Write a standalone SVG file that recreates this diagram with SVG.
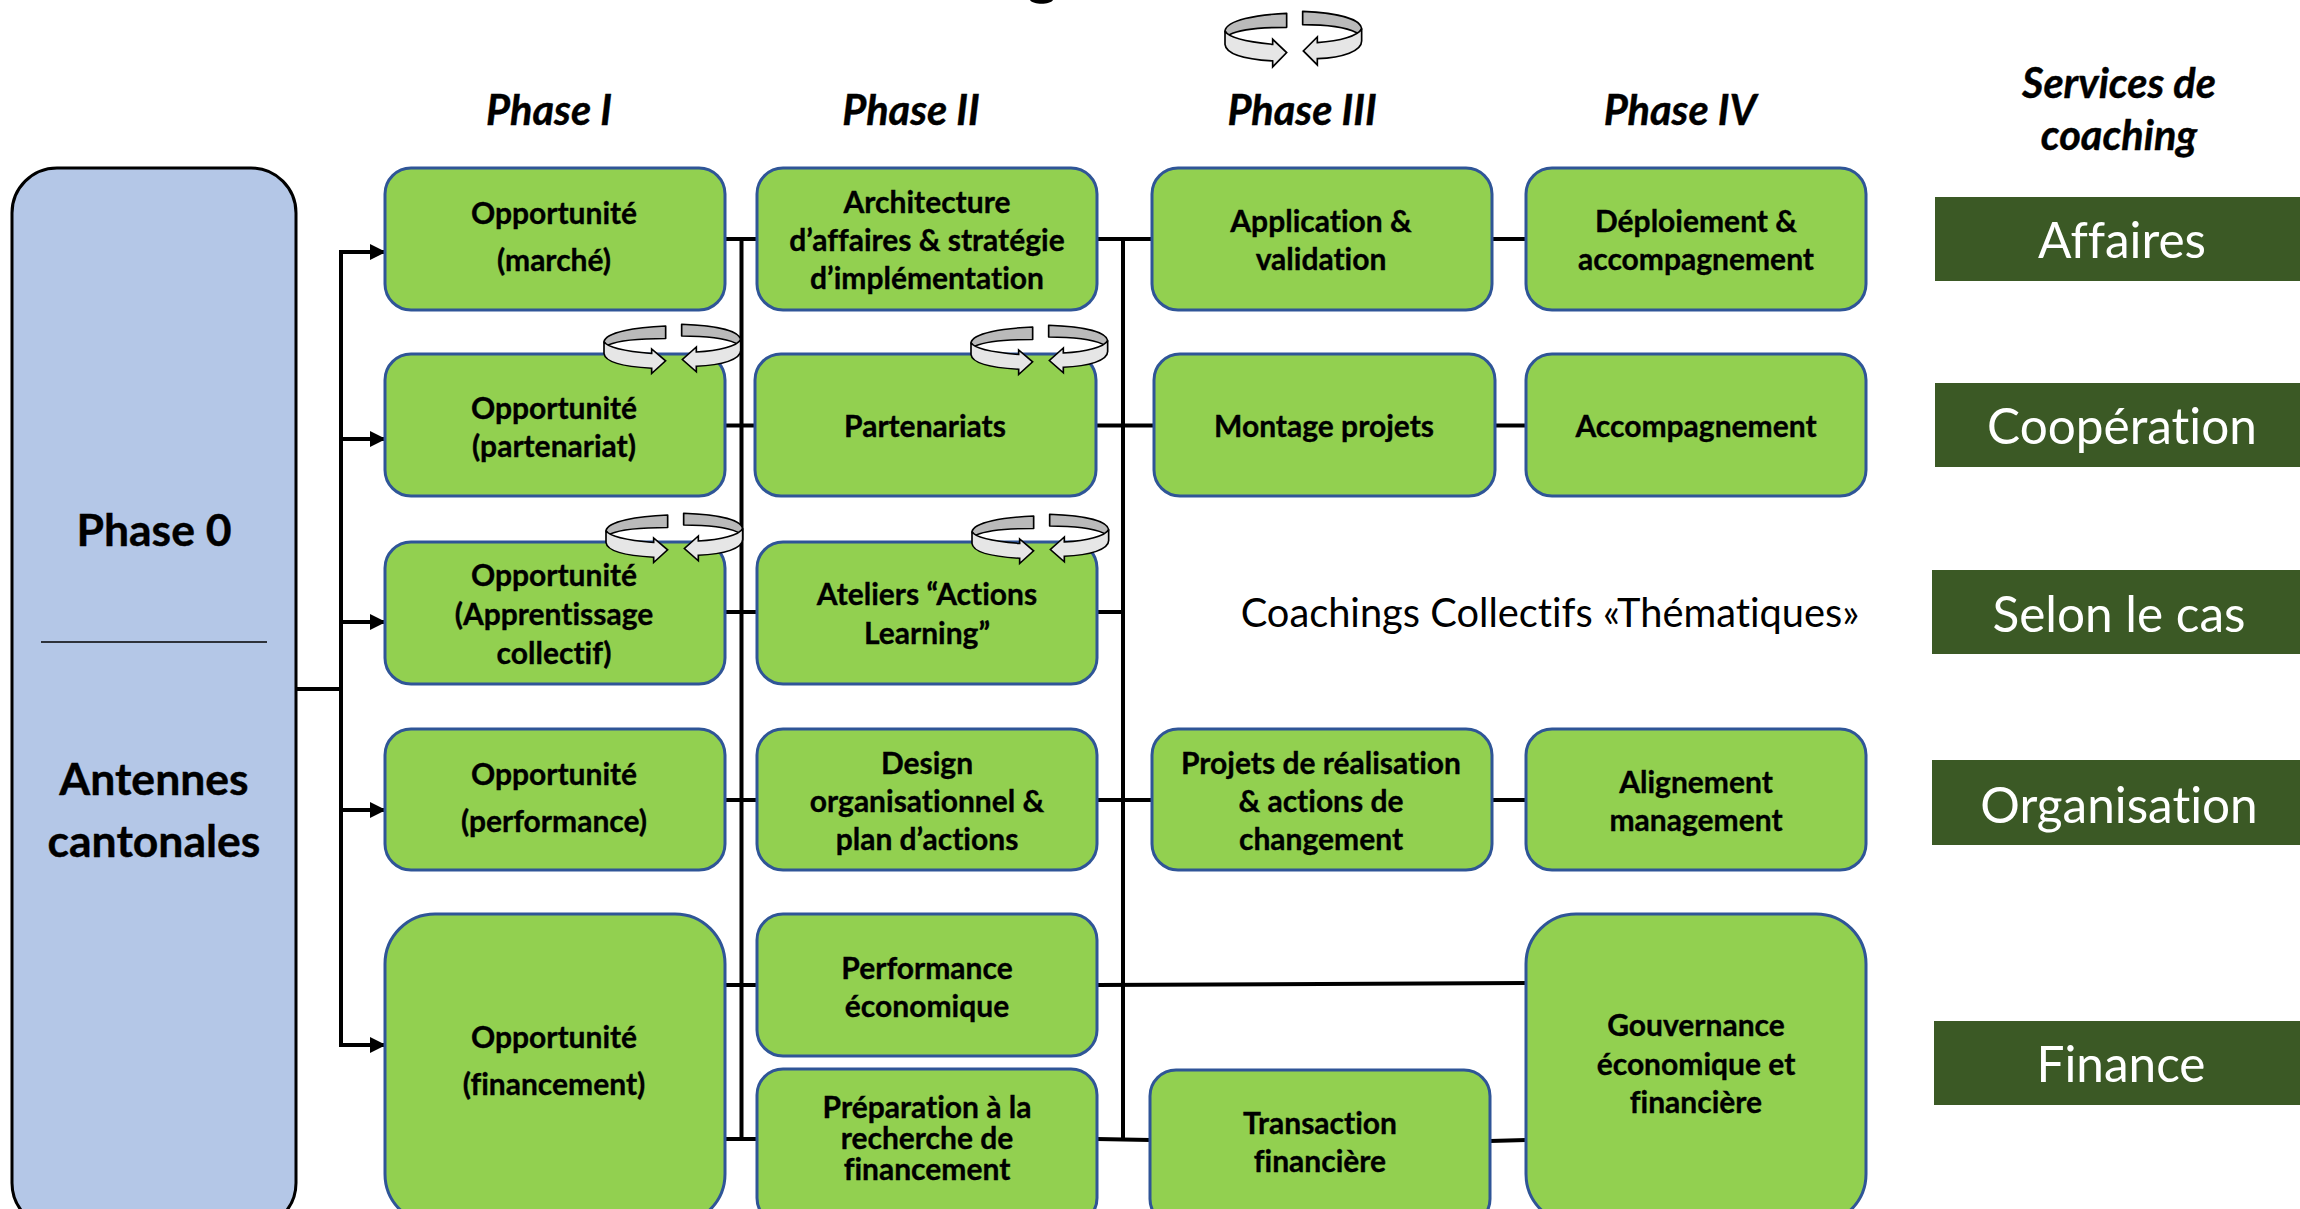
<svg xmlns="http://www.w3.org/2000/svg" width="2300" height="1209" viewBox="0 0 2300 1209">
<style>
text{font-family:"Lato","Liberation Sans",sans-serif;text-anchor:middle;fill:#000;font-variant-ligatures:none;transform:translateY(1.3px)}
.n{fill:#92D050;stroke:#2F5597;stroke-width:3}
.t{font-weight:700;font-size:30px;stroke:#000;stroke-width:.35}
.h{font-weight:700;font-style:italic;font-size:41.5px;stroke:#000;stroke-width:.4}
.s{fill:#3B5925}
.l{fill:#fff;font-size:49.5px}
.p{font-weight:700;font-size:44.5px;stroke:#000;stroke-width:.4}
.c line{stroke:#000;stroke-width:4;fill:none}
.a{fill:#000}
.g1{fill:#BABABA;stroke:#000;stroke-width:5;stroke-linejoin:round}
.g2{fill:#E6E6E6;stroke:#000;stroke-width:5;stroke-linejoin:miter}
</style>
<defs>
<marker id="arr" markerUnits="userSpaceOnUse" markerWidth="16" markerHeight="16" refX="15" refY="8" orient="auto"><path class="a" d="M0,0L16,8L0,16Z"/></marker>
<g id="cyc">
<path class="g1" d="M185,7C95,11 5,27 0,60C3,75 10,73 13,71C45,55 115,49 185,49Z"/>
<path class="g2" d="M0,60C10,80 65,93 143,100L143,85L185,125L143,168L143,150C65,145 3,130 0,100Z"/>
<path class="g1" d="M233,1C325,5 405,20 410,53C407,68 400,70 395,65C365,50 305,41 233,41Z"/>
<path class="g2" d="M410,53C400,75 345,90 277,95L277,78L235,120L277,162L277,143C355,140 410,120 410,90Z"/>
</g>
</defs>
<rect width="2300" height="1209" fill="#fff"/>
<path d="M1030,0C1033,5 1050,5 1053,0Z" fill="#000"/>

<g id="connectors" class="c">
<line x1="296" y1="689" x2="341" y2="689"/>
<line x1="341" y1="250" x2="341" y2="1047"/>
<line x1="341" y1="252" x2="385" y2="252" marker-end="url(#arr)"/>
<line x1="341" y1="439" x2="385" y2="439" marker-end="url(#arr)"/>
<line x1="341" y1="622" x2="385" y2="622" marker-end="url(#arr)"/>
<line x1="341" y1="810" x2="385" y2="810" marker-end="url(#arr)"/>
<line x1="341" y1="1045" x2="385" y2="1045" marker-end="url(#arr)"/>
<line x1="741.5" y1="239" x2="741.5" y2="1139"/>
<line x1="1123" y1="239" x2="1123" y2="1139"/>
<line x1="725" y1="239" x2="757" y2="239"/>
<line x1="1097" y1="239" x2="1152" y2="239"/>
<line x1="1492" y1="239" x2="1526" y2="239"/>
<line x1="725" y1="425.5" x2="755" y2="425.5"/>
<line x1="1096" y1="425.5" x2="1154" y2="425.5"/>
<line x1="1495" y1="425.5" x2="1526" y2="425.5"/>
<line x1="725" y1="612" x2="757" y2="612"/>
<line x1="1097" y1="612" x2="1123" y2="612"/>
<line x1="725" y1="800" x2="757" y2="800"/>
<line x1="1097" y1="800" x2="1152" y2="800"/>
<line x1="1492" y1="800" x2="1526" y2="800"/>
<line x1="725" y1="985" x2="757" y2="985"/>
<line x1="1097" y1="985" x2="1526" y2="983"/>
<line x1="725" y1="1139" x2="757" y2="1139"/>
<line x1="1097" y1="1139" x2="1150" y2="1140"/>
<line x1="1490" y1="1141" x2="1526" y2="1140"/>
</g>

<g id="phase0"><rect x="12" y="168" width="284" height="1060" rx="45" fill="#B4C7E7" stroke="#000" stroke-width="3"/>
<text class="p" x="154" y="545">Phase 0</text>
<line x1="41" y1="642" x2="267" y2="642" stroke="#000" stroke-width="1.5"/>
<text class="p" x="154" y="794">Antennes</text><text class="p" x="154" y="856">cantonales</text></g>

<g id="h1"><text class="h" x="549" y="124">Phase I</text></g>
<g id="h2"><text class="h" x="911" y="124">Phase II</text></g>
<g id="h3"><text class="h" x="1302" y="124">Phase III</text></g>
<g id="h4"><text class="h" x="1680" y="124">Phase IV</text></g>
<g id="h5"><text class="h" x="2119" y="97">Services de</text><text class="h" x="2119" y="149">coaching</text></g>

<g id="n11"><rect class="n" x="385" y="168" width="340" height="142" rx="26"/><text class="t" x="554" y="223">Opportunité</text><text class="t" x="554" y="270">(marché)</text></g>
<g id="n12"><rect class="n" x="757" y="168" width="340" height="142" rx="26"/><text class="t" x="927" y="212">Architecture</text><text class="t" x="927" y="250">d’affaires &amp; stratégie</text><text class="t" x="927" y="288">d’implémentation</text></g>
<g id="n13"><rect class="n" x="1152" y="168" width="340" height="142" rx="26"/><text class="t" x="1321" y="231">Application &amp;</text><text class="t" x="1321" y="269">validation</text></g>
<g id="n14"><rect class="n" x="1526" y="168" width="340" height="142" rx="26"/><text class="t" x="1696" y="231">Déploiement &amp;</text><text class="t" x="1696" y="269">accompagnement</text></g>

<g id="n21"><rect class="n" x="385" y="354" width="340" height="142" rx="26"/><text class="t" x="554" y="418">Opportunité</text><text class="t" x="554" y="456">(partenariat)</text></g>
<g id="n22"><rect class="n" x="755" y="354" width="341" height="142" rx="26"/><text class="t" x="925" y="436">Partenariats</text></g>
<g id="n23"><rect class="n" x="1154" y="354" width="341" height="142" rx="26"/><text class="t" x="1324" y="436">Montage projets</text></g>
<g id="n24"><rect class="n" x="1526" y="354" width="340" height="142" rx="26"/><text class="t" x="1696" y="436">Accompagnement</text></g>

<g id="n31"><rect class="n" x="385" y="542" width="340" height="142" rx="26"/><text class="t" x="554" y="585">Opportunité</text><text class="t" x="554" y="624">(Apprentissage</text><text class="t" x="554" y="663">collectif)</text></g>
<g id="n32"><rect class="n" x="757" y="542" width="340" height="142" rx="26"/><text class="t" x="927" y="604">Ateliers “Actions</text><text class="t" x="927" y="643">Learning”</text></g>
<g id="n33"><text x="1550" y="626" font-size="39.8">Coachings Collectifs «Thématiques»</text></g>

<g id="n41"><rect class="n" x="385" y="729" width="340" height="141" rx="26"/><text class="t" x="554" y="784">Opportunité</text><text class="t" x="554" y="831">(performance)</text></g>
<g id="n42"><rect class="n" x="757" y="729" width="340" height="141" rx="26"/><text class="t" x="927" y="773">Design</text><text class="t" x="927" y="811">organisationnel &amp;</text><text class="t" x="927" y="849">plan d’actions</text></g>
<g id="n43"><rect class="n" x="1152" y="729" width="340" height="141" rx="26"/><text class="t" x="1321" y="773">Projets de réalisation</text><text class="t" x="1321" y="811">&amp; actions de</text><text class="t" x="1321" y="849">changement</text></g>
<g id="n44"><rect class="n" x="1526" y="729" width="340" height="141" rx="26"/><text class="t" x="1696" y="792">Alignement</text><text class="t" x="1696" y="830">management</text></g>

<g id="n51"><rect class="n" x="385" y="914" width="340" height="310" rx="50"/><text class="t" x="554" y="1047">Opportunité</text><text class="t" x="554" y="1094">(financement)</text></g>
<g id="n52"><rect class="n" x="757" y="914" width="340" height="142" rx="26"/><text class="t" x="927" y="978">Performance</text><text class="t" x="927" y="1016">économique</text></g>
<g id="n62"><rect class="n" x="757" y="1069" width="340" height="155" rx="26"/><text class="t" x="927" y="1117">Préparation à la</text><text class="t" x="927" y="1148">recherche de</text><text class="t" x="927" y="1179">financement</text></g>
<g id="n63"><rect class="n" x="1150" y="1070" width="340" height="155" rx="26"/><text class="t" x="1320" y="1133">Transaction</text><text class="t" x="1320" y="1171">financière</text></g>
<g id="n54"><rect class="n" x="1526" y="914" width="340" height="310" rx="50"/><text class="t" x="1696" y="1035">Gouvernance</text><text class="t" x="1696" y="1074">économique et</text><text class="t" x="1696" y="1112">financière</text></g>

<g id="svc1"><rect class="s" x="1935" y="197" width="365" height="84"/><text class="l" x="2122" y="257">Affaires</text></g>
<g id="svc2"><rect class="s" x="1935" y="383" width="365" height="84"/><text class="l" x="2122" y="443">Coopération</text></g>
<g id="svc3"><rect class="s" x="1932" y="570" width="368" height="84"/><text class="l" x="2119" y="631">Selon le cas</text></g>
<g id="svc4"><rect class="s" x="1932" y="760" width="368" height="85"/><text class="l" x="2119" y="822">Organisation</text></g>
<g id="svc5"><rect class="s" x="1934" y="1021" width="366" height="84"/><text class="l" x="2121" y="1081">Finance</text></g>

<g id="cycle1"><use href="#cyc" transform="translate(1225,11) scale(.3333,.333)"/></g>
<g id="cycle2"><use href="#cyc" transform="translate(604,324) scale(.3333,.295)"/></g>
<g id="cycle3"><use href="#cyc" transform="translate(971,325) scale(.3333,.295)"/></g>
<g id="cycle4"><use href="#cyc" transform="translate(606,513) scale(.3333,.295)"/></g>
<g id="cycle5"><use href="#cyc" transform="translate(972,514) scale(.3333,.295)"/></g>
</svg>
